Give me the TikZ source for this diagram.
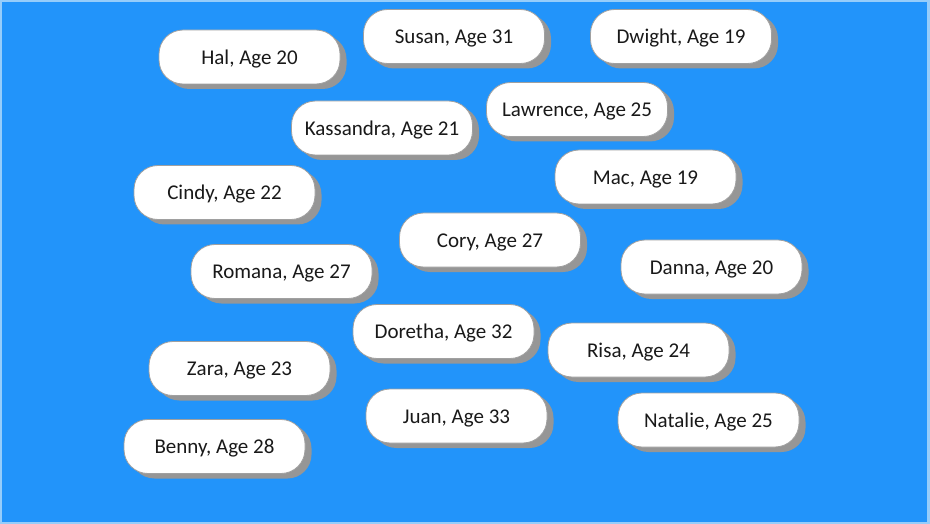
\documentclass[tikz,border=0pt]{standalone}
\usepackage{fontspec}
\setmainfont{Carlito}
\definecolor{bgblue}{RGB}{34,148,250}
\definecolor{edgeblue}{RGB}{150,205,250}
\definecolor{shadowgray}{RGB}{150,150,150}
\definecolor{boxedge}{RGB}{160,160,160}
\newcommand{\lowered}[1]{\raisebox{-2pt}[\height][\depth]{#1}}
\begin{document}
\begin{tikzpicture}[x=1pt,y=-1pt,
  person/.style={draw=boxedge, line width=0.8pt, fill=white, rounded corners=24pt,
    minimum width=181pt, minimum height=54pt, inner sep=0pt,
    font=\fontsize{21}{24}\selectfont, text=black!90},
  shadowbox/.style={fill=shadowgray, rounded corners=24pt,
    minimum width=181pt, minimum height=54pt, inner sep=0pt}]
\useasboundingbox (0,0) rectangle (930,524);
\fill[edgeblue] (0,0) rectangle (930,524);
\fill[bgblue] (2,2) rectangle (927,522);
\foreach \nm/\cx/\cy/\txt in {
  hal/249.5/57/{Hal, Age 20},
  susan/454/36.5/{Susan, Age 31},
  dwight/681/36.5/{Dwight, Age 19},
  kassandra/382/128/{Kassandra, Age 21},
  lawrence/577/109.5/{Lawrence, Age 25},
  cindy/224.5/192.5/{Cindy, Age 22},
  mac/645.5/177/{Mac, Age 19},
  cory/490/240/{Cory, Age 27},
  romana/281.5/271.5/{Romana, Age 27},
  danna/711.5/267/{Danna, Age 20},
  doretha/443.5/331.5/{Doretha, Age 32},
  risa/638.5/350/{Risa, Age 24},
  zara/239.5/368.5/{Zara, Age 23},
  juan/456.5/416/{Juan, Age 33},
  natalie/708.5/420/{Natalie, Age 25},
  benny/214.5/446.5/{Benny, Age 28}} {
  \node[shadowbox] (\nm-shadow) at (\cx+6.5,\cy+5) {};
  \node[person] (\nm) at (\cx,\cy) {\lowered{\txt}};
}
\end{tikzpicture}
\end{document}
